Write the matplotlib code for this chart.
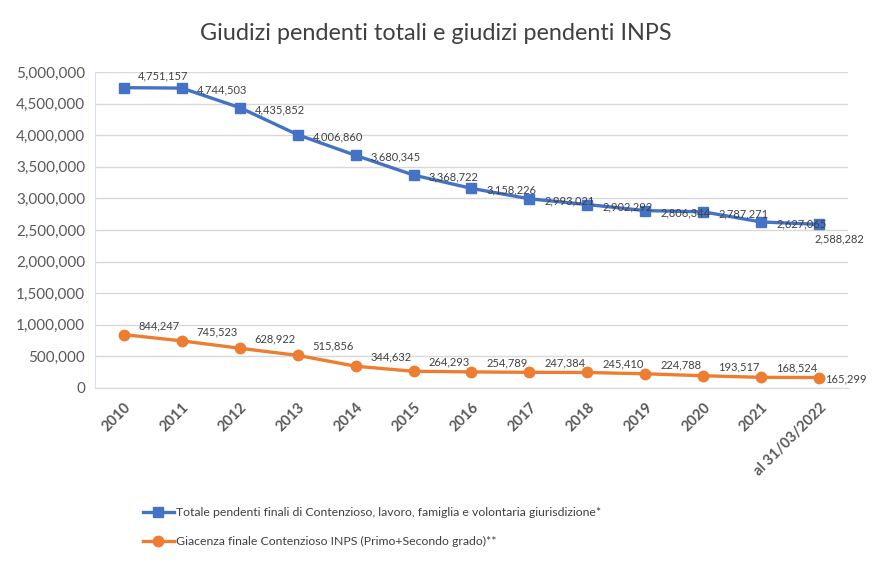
import matplotlib.pyplot as plt
from matplotlib.ticker import FuncFormatter

# Data
categories = ['2010', '2011', '2012', '2013', '2014', '2015', '2016', '2017',
              '2018', '2019', '2020', '2021', 'al 31/03/2022']
totale = [4751157, 4744503, 4435852, 4006860, 3680345, 3368722, 3158226,
          2993021, 2902292, 2806344, 2787271, 2627065, 2588282]
inps = [844247, 745523, 628922, 515856, 344632, 264293, 254789,
        247384, 245410, 224788, 193517, 168524, 165299]

label_totale = 'Totale pendenti finali di Contenzioso, lavoro, famiglia e volontaria giurisdizione*'
label_inps = 'Giacenza finale Contenzioso INPS (Primo+Secondo grado)**'

plt.rcParams['font.family'] = ['Lato', 'DejaVu Sans']

fig = plt.figure(figsize=(8.76, 5.71), dpi=100)
ax = fig.add_axes([0.1084, 0.3205, 0.8596, 0.5535])

x = list(range(len(categories)))
blue = '#4472C4'
orange = '#ED7D31'

ax.plot(x, totale, color=blue, lw=2.4, marker='s', markersize=7.5,
        label=label_totale, zorder=3)
ax.plot(x, inps, color=orange, lw=2.4, marker='o', markersize=7.5,
        label=label_inps, zorder=3)

# Data labels
for i, v in enumerate(totale):
    if i == 0:
        off, ha, va = (14, 12), 'left', 'center'
    elif i == len(totale) - 1:
        off, ha, va = (20, -15), 'center', 'center'
    else:
        off, ha, va = (15, -2), 'left', 'center'
    ax.annotate(f'{v:,}', (i, v), xytext=off, textcoords='offset pixels',
                ha=ha, va=va, fontsize=8, color='#404040')

for i, v in enumerate(inps):
    if i == len(inps) - 1:
        off = (6, -1)
    else:
        off = (15, 9)
    ax.annotate(f'{v:,}', (i, v), xytext=off, textcoords='offset pixels',
                ha='left', va='center', fontsize=8, color='#404040')

ax.set_xlim(-0.5, len(categories) - 0.5)
ax.set_ylim(0, 5000000)
ax.set_yticks(range(0, 5000001, 500000))
ax.yaxis.set_major_formatter(FuncFormatter(lambda v, p: f'{int(v):,}'))
ax.set_xticks(x)
ax.set_xticklabels(categories, rotation=45, ha='right', rotation_mode='anchor',
                   fontsize=10.5, fontweight='bold', color='#595959')
ax.tick_params(axis='y', labelsize=11, labelcolor='#595959', length=0, pad=7)
ax.tick_params(axis='x', length=0, pad=9)

ax.grid(axis='y', color='#D9D9D9', lw=1)
ax.set_axisbelow(True)
for s in ['top', 'right']:
    ax.spines[s].set_visible(False)
ax.spines['left'].set_color('#D6E0F0')
ax.spines['bottom'].set_color('#D9D9D9')

fig.text(0.498, 0.942, 'Giudizi pendenti totali e giudizi pendenti INPS',
         ha='center', va='center', fontsize=16.8, color='#404040')

fig.legend(loc='upper left', bbox_to_anchor=(143 / 876, 1 - 507 / 571),
           frameon=False, fontsize=8.8, handlelength=2.5, handletextpad=0.2,
           labelspacing=1.5, borderaxespad=0, borderpad=0, labelcolor='#404040')

fig.savefig('out.png', dpi=100)
